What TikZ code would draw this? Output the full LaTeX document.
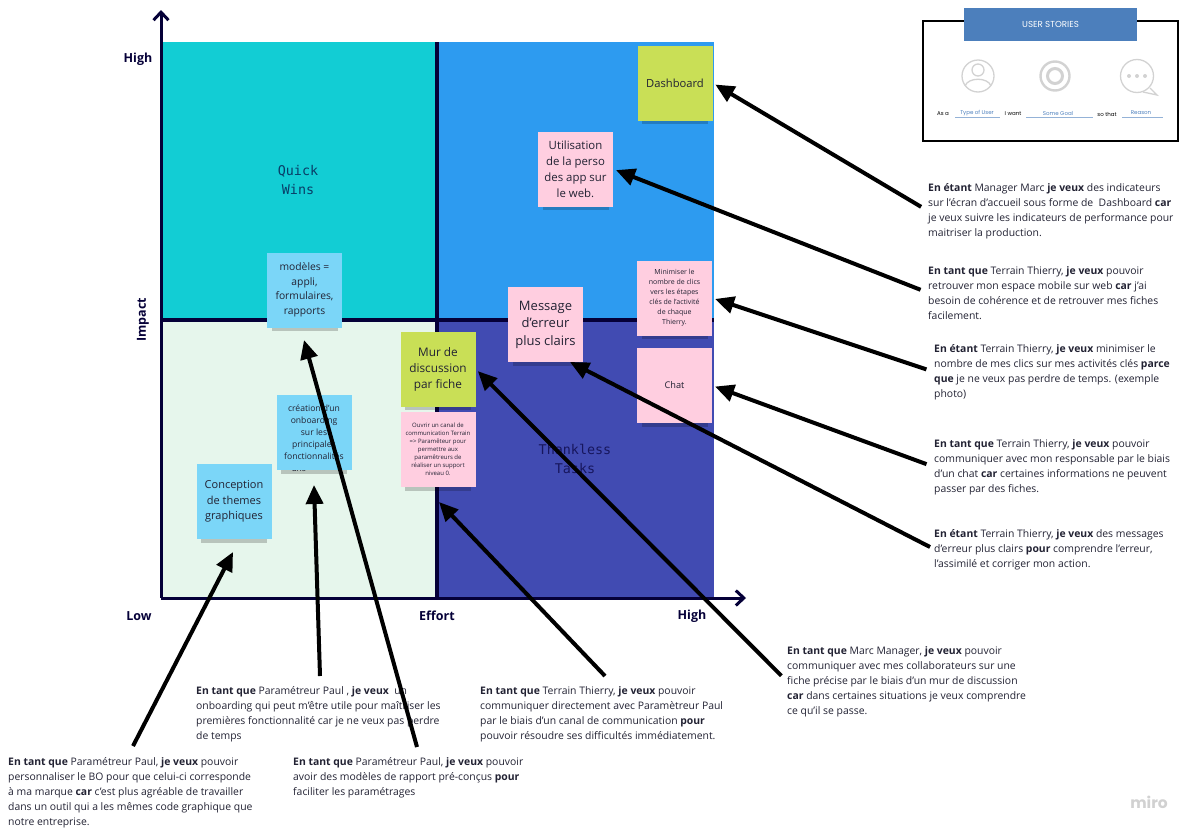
\documentclass[tikz,border=0pt]{standalone}
\usepackage{fontspec}
\setmainfont{Open Sans}
\newfontfamily\monoface{DejaVu Sans Mono}
\newfontfamily\wordface{Poppins}
\usetikzlibrary{arrows.meta,positioning}
\definecolor{navy}{HTML}{050038}
\definecolor{teal}{HTML}{12CDD4}
\definecolor{sky}{HTML}{2D9BF0}
\definecolor{mint}{HTML}{E6F6EC}
\definecolor{indigo}{HTML}{414BB2}
\definecolor{lime}{HTML}{C9DF56}
\definecolor{rose}{HTML}{FFCEE0}
\definecolor{azure}{HTML}{7BD6F8}
\definecolor{banner}{HTML}{4C7FBC}
\definecolor{icon}{HTML}{D2D2D2}
\definecolor{ink}{HTML}{222233}
\newcommand{\sz}[2]{\fontsize{#1}{#2}\selectfont}
\tikzset{
  note/.style={minimum width=75pt,minimum height=75pt,inner sep=0pt,align=center,text=ink},
  story/.style={anchor=north west,inner sep=0pt,align=left,text=ink,font=\sz{10.4}{15}},
  axislabel/.style={inner sep=0pt,text=navy,font=\bfseries\sz{12.5}{14}},
  quad/.style={inner sep=0pt,align=center,font=\monoface\sz{13.4}{19}},
  small/.style={inner sep=0pt,font=\wordface\sz{5.5}{6}},
  link/.style={-{Triangle[length=19pt,width=17pt]},line width=4pt,black}
}
\begin{document}
\begin{tikzpicture}[x=1pt,y=-1pt]
    \useasboundingbox (0,0) rectangle (1196,835);
    \fill [teal] (161,42) rectangle (437,320);
    \fill [sky] (437,42) rectangle (714,320);
    \fill [mint] (161,320) rectangle (437,598);
    \fill [indigo] (437,320) rectangle (714,598);

    \coordinate (origin) at (161,598);
    \coordinate (top) at (161,10);
    \coordinate (right) at (746,598);
    \coordinate (midtop) at (437,42);
    \coordinate (midbot) at (437,598);
    \coordinate (midleft) at (161,320);
    \coordinate (midright) at (714,320);
    \draw [navy,line width=3.2pt] (midtop) -- (midbot) (midleft) -- (midright);
    \draw [navy,line width=3pt,-{Straight Barb[length=8pt,width=15pt]}] (origin) -- (top);
    \draw [navy,line width=3pt,-{Straight Barb[length=8pt,width=15pt]}] (origin) -- (right);

    \node (highy) [axislabel] at (138,59) {High};
    \node (impact) [axislabel,rotate=90] at (143,320) {Impact};
    \node (low) [axislabel] at (139,616) {Low};
    \node (effort) [axislabel] at (437,615.5) {Effort};
    \node (highx) [axislabel] at (692,616) {High};
    \node (wins) [quad,text=navy!70!teal] at (298,180.5) {Quick\\Wins};
    \node (tasks) [quad,text=navy!70!indigo] at (575,459) {Thankless\\Tasks};

    \node (leftover) [inner sep=0pt,text=ink,font=\sz{8.5}{10}] at (299,469) {ans};

    \foreach \cx/\cy in {675/83,575.5/169,674.5/298,545.5/324.5,674.5/385.5,438/369,438/449.5,304.5/290,314/432.5,234/501.5}
        \fill [black,opacity=.2] (\cx-33,\cy+36) rectangle (\cx+33,\cy+41);

    \node (dash) [note,fill=lime,font=\sz{11.2}{15}] at (675,83) {Dashboard};
    \node (web) [note,fill=rose,font=\sz{11.4}{16}] at (575.5,169) {Utilisation\\de la perso\\des app sur\\le web.};
    \node (clics) [note,fill=rose,font=\sz{7}{10}] at (674.5,298) {Minimiser le\\nombre de clics\\vers les étapes\\clés de l'activité\\de chaque\\Thierry.};
    \node (error) [note,fill=rose,font=\sz{13}{17.5}] at (545.5,324.5) {Message\\d'erreur\\plus clairs};
    \node (chat) [note,fill=rose,font=\sz{9.2}{10}] at (674.5,385.5) {Chat};
    \node (wall) [note,fill=lime,font=\sz{11.8}{16}] at (438,369) {Mur de\\discussion\\par fiche};
    \node (canal) [note,fill=rose,font=\sz{6}{8}] at (438,449.5) {Ouvrir un canal de\\communication Terrain\\=> Paramêteur pour\\permettre aux\\paramêtreurs de\\réaliser un support\\niveau 0.};
    \node (models) [note,fill=azure,font=\sz{10.3}{14.5}] at (304.5,290) {modèles =\\appli,\\formulaires,\\rapports};
    \node (onboard) [note,fill=azure,font=\sz{8.6}{12}] at (314,432.5) {création d'un\\onboarding\\sur les\\principales\\fonctionnalités};
    \node (themes) [note,fill=azure,font=\sz{11}{15.5}] at (234,501.5) {Conception\\de themes\\graphiques};

    \node (sdash) [story] at (928,183) {\textbf{En étant} Manager Marc \textbf{je veux} des indicateurs\\sur l'écran d'accueil sous forme de~ Dashboard \textbf{car}\\je veux suivre les indicateurs de performance pour\\maitriser la production.};
    \node (sweb) [story] at (928,266) {\textbf{En tant que} Terrain Thierry, \textbf{je veux} pouvoir\\retrouver mon espace mobile sur web \textbf{car} j'ai\\besoin de cohérence et de retrouver mes fiches\\facilement.};
    \node (sclics) [story] at (934,344) {\textbf{En étant} Terrain Thierry, \textbf{je veux} minimiser le\\nombre de mes clics sur mes activités clés \textbf{parce}\\\textbf{que} je ne veux pas perdre de temps. (exemple\\photo)};
    \node (schat) [story] at (934,439) {\textbf{En tant que} Terrain Thierry, \textbf{je veux} pouvoir\\communiquer avec mon responsable par le biais\\d'un chat \textbf{car} certaines informations ne peuvent\\passer par des fiches.};
    \node (serror) [story] at (934,529) {\textbf{En étant} Terrain Thierry, \textbf{je veux} des messages\\d'erreur plus clairs \textbf{pour} comprendre l'erreur,\\l'assimilé et corriger mon action.};
    \node (swall) [story] at (787,646) {\textbf{En tant que} Marc Manager, \textbf{je veux} pouvoir\\communiquer avec mes collaborateurs sur une\\fiche précise par le biais d'un mur de discussion\\\textbf{car} dans certaines situations je veux comprendre\\ce qu'il se passe.};
    \node (scanal) [story] at (480,686) {\textbf{En tant que} Terrain Thierry, \textbf{je veux} pouvoir\\communiquer directement avec Paramètreur Paul\\par le biais d'un canal de communication \textbf{pour}\\pouvoir résoudre ses difficultés immédiatement.};
    \node (sonboard) [story] at (196,686) {\textbf{En tant que} Paramétreur Paul , \textbf{je veux}~ un\\onboarding qui peut m'être utile pour maîtriser les\\premières fonctionnalité car je ne veux pas perdre\\de temps};
    \node (smodels) [story] at (293,757) {\textbf{En tant que} Paramétreur Paul, \textbf{je veux} pouvoir\\avoir des modèles de rapport pré-conçus \textbf{pour}\\faciliter les paramétrages};
    \node (sthemes) [story] at (8,757) {\textbf{En tant que} Paramétreur Paul, \textbf{je veux} pouvoir\\personnaliser le BO pour que celui-ci corresponde\\à ma marque \textbf{car} c'est plus agréable de travailler\\dans un outil qui a les mêmes code graphique que\\notre entreprise.};

    \path [link,shorten <=8pt,shorten >=3pt]
        (sdash.west) edge (dash.east)
        (sweb.west) edge (web.east)
        (sclics.west) edge (clics.east)
        (schat.west) edge (chat.east)
        (swall.west) edge (wall.east);
    \coordinate (errorstart) at (930,547);
    \coordinate (errortip) at (570,362);
    \coordinate (canalstart) at (605,676);
    \coordinate (canaltip) at (439,502);
    \coordinate (onboardstart) at (320,676);
    \coordinate (onboardtip) at (314,485);
    \coordinate (modelstart) at (417,747);
    \coordinate (modeltip) at (304,340);
    \coordinate (themestart) at (133,746);
    \coordinate (themetip) at (233,552);
    \path [link]
        (errorstart) edge (errortip)
        (canalstart) edge (canaltip)
        (onboardstart) edge (onboardtip)
        (modelstart) edge (modeltip)
        (themestart) edge (themetip);

    \node (frame) [draw=black,line width=1.2pt,minimum width=255pt,minimum height=120pt,inner sep=0pt] at (1050.5,81) {};
    \node (banner) [fill=banner,text=white,minimum width=173pt,minimum height=33pt,inner sep=0pt,font=\wordface\sz{8.7}{10}] at (1050.5,24.5) {USER STORIES};

    \node (user) [draw=icon,line width=1.3pt,circle,minimum size=32pt,inner sep=0pt] at (978,76) {};
    \node (head) [draw=icon,line width=1.3pt,circle,minimum size=12pt,inner sep=0pt] at (978,70) {};
    \draw [icon,line width=1.3pt] (965,86) .. controls (968,77) and (988,77) .. (991,86);
    \node (goal) [draw=icon,line width=2.4pt,circle,minimum size=29pt,inner sep=0pt] at (1055,76) {};
    \node (goalin) [draw=icon,line width=3pt,circle,minimum size=15pt,inner sep=0pt] at (1055,76) {};
    \node (bubble) [draw=icon,line width=1.3pt,circle,minimum size=33pt,inner sep=0pt] at (1137,76) {};
    \coordinate (tailtip) at (1157,95);
    \draw [icon,line width=1.3pt] (1150,88) -- (tailtip) -- (1143,92);
    \foreach \x in {1129,1137,1145}
        \fill [icon] (\x,76) circle (2pt);

    \node (asa) [small,text=black] at (943,114) {As a};
    \node (typeof) [small,text=banner] at (977,113) {Type of User};
    \node (iwant) [small,text=black] at (1013,114) {I want};
    \node (somegoal) [small,text=banner] at (1058,113) {Some Goal};
    \node (sothat) [small,text=black] at (1107,114) {so that};
    \node (reason) [small,text=banner] at (1141,113) {Reason};
    \draw [banner!60,line width=.6pt] (955,117) -- (1000,117) (1026,117) -- (1093,117) (1122,117) -- (1163,117);

    \node (miro) [inner sep=0pt,text=black!18,font=\wordface\bfseries\sz{15.5}{17}] at (1149,802) {miro};
\end{tikzpicture}
\end{document}
